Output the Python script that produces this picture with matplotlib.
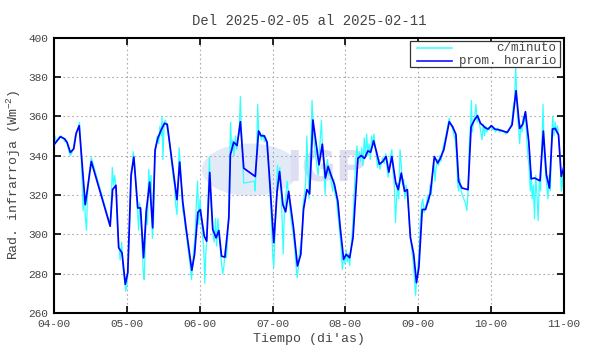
"""Infrared radiation chart: minute data + hourly mean, one week."""

import matplotlib

matplotlib.use("Agg")
import matplotlib.pyplot as plt
from matplotlib.patches import Circle, Rectangle
from matplotlib.lines import Line2D
import numpy as np

plt.rcParams["font.family"] = ["Liberation Mono", "DejaVu Sans Mono"]
plt.rcParams["mathtext.fontset"] = "custom"
plt.rcParams["mathtext.rm"] = "Liberation Mono"

# ── data (hours since day 04, 00h) ──────────────────────────────────────────
day_ticks = [0, 24, 48, 72, 96, 120, 144, 168]
day_labels = ["04-00", "05-00", "06-00", "07-00", "08-00", "09-00", "10-00", "11-00"]

hourly_t = [
    0.0, 2.1, 3.5, 4.3, 5.4, 6.5, 7.3, 8.3, 10.3, 12.3, 18.5, 19.3, 20.4, 21.3,
    22.4, 23.5, 24.3, 25.4, 26.3, 27.6, 28.5, 29.5, 30.4, 31.5, 32.5, 33.3, 34.2,
    35.3, 36.4, 37.3, 38.6, 40.5, 41.4, 42.4, 43.5, 45.4, 46.3, 47.4, 48.2, 49.5,
    50.3, 51.3, 52.3, 53.4, 54.3, 55.2, 56.3, 57.6, 58.1, 59.2, 60.3, 61.4, 62.5,
    66.3, 67.4, 68.2, 69.3, 70.2, 71.3, 72.4, 73.5, 74.3, 75.4, 76.3, 77.3, 78.9,
    80.2, 81.3, 82.2, 83.3, 84.2, 85.3, 87.3, 88.4, 89.4, 90.3, 91.3, 92.4, 93.5,
    94.3, 95.4, 96.3, 97.4, 98.5, 100.1, 101.2, 102.3, 103.4, 104.3, 105.3, 106.2,
    107.2, 108.3, 109.4, 110.3, 111.3, 112.6, 113.4, 114.4, 115.5, 116.4, 117.4,
    118.5, 119.4, 120.2, 121.3, 122.4, 124.0, 125.3, 126.4, 127.2, 128.4, 130.2,
    131.3, 132.4, 133.3, 134.4, 136.4, 137.4, 138.5, 139.5, 140.5, 141.4, 142.0,
    143.0, 144.1, 145.2, 146.8, 149.3, 150.9, 152.2, 153.4, 154.4, 155.3, 156.4,
    157.2, 158.3, 160.1, 161.2, 162.2, 163.2, 164.2, 165.1, 166.2, 167.1, 168.0,
]
hourly_v = [
    345.5, 349.6, 348.5, 346.8, 341.6, 343.4, 351.3, 355.2, 315.1, 337.0, 304.1,
    322.7, 324.9, 293.2, 290.6, 274.6, 280.5, 330.3, 339.2, 313.4, 313.4, 288.1,
    311.7, 326.5, 303.3, 342.9, 348.8, 353.0, 356.4, 355.9, 340.4, 317.6, 336.7,
    316.8, 303.3, 281.7, 289.8, 311.2, 312.5, 299.1, 296.5, 331.4, 302.5, 298.2,
    301.9, 288.9, 288.4, 308.3, 340.4, 346.8, 345.1, 357.2, 333.6, 329.4, 352.5,
    350.1, 350.0, 346.8, 321.8, 295.7, 321.8, 331.9, 315.1, 311.4, 321.8, 303.3,
    283.9, 289.8, 312.6, 322.7, 320.5, 358.1, 335.3, 345.8, 328.6, 334.5, 329.9,
    325.2, 316.8, 303.3, 287.3, 289.8, 288.1, 298.2, 338.6, 340.0, 338.6, 342.4,
    341.7, 347.5, 342.1, 335.6, 337.0, 339.5, 331.6, 339.5, 326.0, 322.7, 331.1,
    321.8, 322.7, 298.5, 289.8, 275.4, 283.1, 312.6, 312.6, 321.0, 339.5, 336.2,
    338.4, 342.9, 357.2, 354.7, 350.8, 326.9, 323.5, 322.7, 354.7, 358.1, 360.3,
    356.4, 355.2, 354.2, 353.5, 355.2, 353.5, 353.0, 351.8, 355.6, 373.0, 353.8,
    355.9, 362.3, 347.1, 328.2, 328.6, 327.2, 352.5, 330.3, 323.5, 353.5, 353.8,
    350.5, 329.4, 334.5,
]

minute_pts = [
    (0.0, 340), (0.3, 350), (0.8, 347), (1.5, 349), (2.2, 350), (3.0, 349),
    (3.6, 347), (4.2, 347), (4.8, 343), (5.3, 340), (5.8, 341), (6.4, 344),
    (7.0, 350), (7.5, 352), (8.0, 354), (8.4, 357), (8.8, 345), (9.2, 330),
    (9.6, 312), (10.0, 322), (10.3, 309), (10.7, 302), (11.0, 318), (11.5, 330),
    (12.0, 336), (12.3, 339), (18.5, 305), (18.8, 312), (19.2, 334), (19.6, 325),
    (20.0, 330), (20.5, 322), (20.9, 306), (21.3, 296), (21.8, 287), (22.3, 296),
    (22.8, 282), (23.3, 276), (23.6, 271), (24.0, 274), (24.4, 282), (24.8, 300),
    (25.3, 326), (25.7, 332), (26.1, 342), (26.5, 337), (27.0, 325), (27.5, 312),
    (27.9, 302), (28.2, 316), (28.6, 310), (29.0, 296), (29.4, 281), (29.7, 277),
    (30.0, 290), (30.4, 314), (30.8, 305), (31.2, 333), (31.6, 324), (32.0, 330),
    (32.4, 298), (32.8, 306), (33.2, 338), (33.6, 345), (34.0, 350), (34.5, 346),
    (34.9, 355), (35.3, 350), (35.6, 360), (35.9, 338), (36.3, 357), (36.7, 358),
    (37.2, 355), (37.7, 350), (38.2, 345), (38.6, 338), (39.2, 330), (39.7, 325),
    (40.1, 315), (40.5, 310), (40.9, 325), (41.2, 344), (41.6, 336), (42.0, 324),
    (42.4, 312), (42.8, 310), (43.2, 304), (43.6, 300), (44.2, 292), (44.8, 285),
    (45.3, 277), (45.7, 285), (46.1, 293), (46.5, 300), (46.9, 316), (47.3, 327),
    (47.7, 305), (48.1, 318), (48.5, 310), (48.9, 300), (49.3, 294), (49.7, 275),
    (50.0, 290), (50.4, 299), (50.8, 320), (51.2, 339), (51.6, 318), (52.0, 310),
    (52.4, 300), (52.8, 296), (53.2, 308), (53.6, 294), (54.0, 308), (54.4, 300),
    (54.8, 292), (55.2, 285), (55.6, 280), (56.0, 284), (56.4, 292), (56.8, 288),
    (57.2, 298), (57.6, 312), (57.9, 340), (58.2, 357), (58.5, 342), (58.9, 348),
    (59.3, 340), (59.8, 350), (60.2, 343), (60.6, 348), (61.0, 352), (61.4, 370),
    (61.7, 355), (62.1, 342), (62.5, 326), (66.0, 327), (66.3, 322), (66.7, 340),
    (67.1, 366), (67.5, 350), (67.9, 352), (68.3, 348), (68.8, 351), (69.3, 347),
    (69.8, 349), (70.2, 344), (70.6, 336), (71.0, 325), (71.4, 315), (71.8, 300),
    (72.1, 288), (72.4, 283), (72.8, 300), (73.2, 315), (73.6, 335), (74.0, 328),
    (74.4, 334), (74.8, 322), (75.2, 305), (75.5, 290), (75.9, 312), (76.3, 318),
    (76.8, 327), (77.3, 320), (77.8, 312), (78.3, 305), (78.8, 300), (79.3, 293),
    (79.7, 285), (80.1, 278), (80.5, 283), (80.9, 291), (81.3, 295), (81.7, 300),
    (82.1, 316), (82.5, 320), (82.9, 326), (83.3, 350), (83.7, 330), (84.0, 318),
    (84.3, 330), (84.7, 350), (85.0, 368), (85.4, 355), (85.8, 345), (86.2, 340),
    (86.6, 335), (87.0, 330), (87.4, 340), (87.8, 350), (88.1, 358), (88.5, 342),
    (88.9, 335), (89.3, 320), (89.7, 334), (90.1, 338), (90.5, 330), (90.9, 333),
    (91.3, 327), (91.8, 322), (92.2, 328), (92.6, 320), (93.0, 318), (93.4, 312),
    (93.8, 306), (94.2, 300), (94.6, 292), (95.0, 282), (95.4, 290), (95.8, 285),
    (96.2, 292), (96.6, 286), (97.0, 290), (97.4, 284), (97.8, 292), (98.2, 300),
    (98.6, 310), (99.0, 325), (99.4, 338), (99.8, 345), (100.2, 336), (100.6, 342),
    (101.0, 337), (101.4, 344), (101.8, 335), (102.2, 349), (102.6, 340), (103.0, 351),
    (103.4, 340), (103.8, 346), (104.2, 338), (104.6, 350), (105.0, 345), (105.4, 351),
    (105.8, 344), (106.2, 340), (106.6, 334), (107.0, 338), (107.4, 333), (107.8, 336),
    (108.3, 339), (108.8, 336), (109.3, 341), (109.7, 334), (110.1, 329), (110.5, 334),
    (110.9, 340), (111.3, 343), (111.7, 332), (112.1, 325), (112.5, 306), (112.8, 316),
    (113.2, 326), (113.6, 318), (114.0, 343), (114.4, 335), (114.8, 325), (115.2, 328),
    (115.6, 318), (116.0, 325), (116.4, 320), (116.8, 312), (117.2, 302), (117.6, 296),
    (118.0, 290), (118.4, 285), (118.8, 276), (119.1, 269), (119.5, 278), (119.9, 284),
    (120.3, 292), (120.7, 308), (121.1, 315), (121.5, 318), (121.9, 311), (122.3, 314),
    (122.7, 315), (123.1, 320), (123.5, 316), (123.9, 325), (124.3, 320), (124.7, 330),
    (125.1, 338), (125.5, 327), (125.9, 334), (126.3, 338), (126.7, 335), (127.1, 340),
    (127.5, 337), (127.9, 342), (128.3, 345), (128.8, 348), (129.3, 352), (129.8, 356),
    (130.2, 359), (130.6, 356), (131.0, 355), (131.4, 353), (131.8, 350), (132.2, 348),
    (132.6, 340), (133.0, 325), (133.3, 322), (133.7, 328), (134.1, 322), (134.5, 320),
    (135.0, 318), (135.5, 316), (136.0, 312), (136.4, 322), (136.8, 345), (137.2, 355),
    (137.5, 368), (137.8, 352), (138.2, 357), (138.6, 360), (139.0, 366), (139.4, 357),
    (139.8, 360), (140.2, 356), (140.6, 352), (141.0, 348), (141.4, 356), (141.8, 350),
    (142.2, 355), (142.6, 352), (143.0, 354), (143.4, 353), (143.8, 355), (144.2, 354),
    (144.6, 353), (145.0, 354), (145.4, 352), (145.8, 353), (146.3, 354), (146.8, 352),
    (147.5, 353), (148.2, 352), (148.9, 351), (149.5, 352), (150.0, 353), (150.5, 355),
    (150.9, 358), (151.3, 365), (151.7, 368), (152.1, 385), (152.4, 372), (152.7, 360),
    (153.0, 355), (153.4, 346), (153.8, 356), (154.2, 352), (154.6, 360), (155.0, 357),
    (155.3, 362), (155.7, 350), (156.1, 340), (156.5, 334), (156.9, 322), (157.2, 332),
    (157.5, 318), (157.9, 325), (158.3, 308), (158.7, 330), (159.1, 320), (159.5, 307),
    (159.9, 328), (160.3, 322), (160.7, 345), (161.1, 366), (161.5, 340), (161.9, 332),
    (162.3, 325), (162.7, 318), (163.1, 330), (163.5, 322), (163.9, 345), (164.3, 360),
    (164.7, 350), (165.1, 357), (165.5, 352), (165.9, 355), (166.3, 348), (166.7, 340),
    (167.1, 322), (167.5, 330), (168.0, 318),
]

title = "Del 2025-02-05 al 2025-02-11"

# ── chart ───────────────────────────────────────────────────────────────────
fig = plt.figure(figsize=(5.9, 3.54), dpi=100)
ax = fig.add_axes([0.0915, 0.1158, 0.8644, 0.7782])

# faint logo watermark behind the data
ax.add_patch(Circle((0.385, 0.52), 0.095, transform=ax.transAxes,
                    facecolor="#e2eaf8", edgecolor="none", zorder=0))
ax.text(0.455, 0.52, "IGP", transform=ax.transAxes, ha="left", va="center",
        fontsize=30, fontweight="bold", color="#dedef2", family="DejaVu Sans",
        zorder=0)

minute = np.array(minute_pts).T
ax.plot(minute[0], minute[1], color="#33ffff", linewidth=0.9, zorder=2)
ax.plot(hourly_t, hourly_v, color="#0000ff", linewidth=1.25, zorder=3)

ax.set_xlim(0, 168)
ax.set_ylim(260, 400)
ax.set_xticks(day_ticks)
ax.set_xticklabels(day_labels)
ax.set_yticks(range(260, 401, 20))
ax.tick_params(direction="in", length=5, width=1.2, labelsize=8, colors="black",
               top=True, right=True, pad=4)
for lbl in ax.get_xticklabels() + ax.get_yticklabels():
    lbl.set_color("#444444")
for s in ax.spines.values():
    s.set_linewidth(1.5)
ax.grid(True, linestyle=(0, (1.5, 2.5)), color="#aaaaaa", linewidth=0.8)

ax.set_title(title, fontsize=10, color="#444444", pad=9)
ax.set_xlabel("Tiempo (di'as)", fontsize=9.5, color="#444444", labelpad=3)
ax.set_ylabel(r"Rad. infrarroja (Wm$^{-2}$)", fontsize=9.5, color="#444444",
              labelpad=4)

# legend drawn by hand: sample left, text right-aligned
ax.add_patch(Rectangle((0.699, 0.893), 0.293, 0.093, transform=ax.transAxes,
                       facecolor="white", edgecolor="#333333", linewidth=0.9,
                       zorder=5))
for y, col, lab in [(0.963, "#33ffff", "c/minuto"), (0.916, "#0000ff", "prom. horario")]:
    ax.add_line(Line2D([0.712, 0.78], [y, y], transform=ax.transAxes, color=col,
                       linewidth=1.1, zorder=6))
    ax.text(0.985, y, lab, transform=ax.transAxes, ha="right", va="center",
            fontsize=9, color="#444444", zorder=6)

fig.savefig("out.png", dpi=100)
